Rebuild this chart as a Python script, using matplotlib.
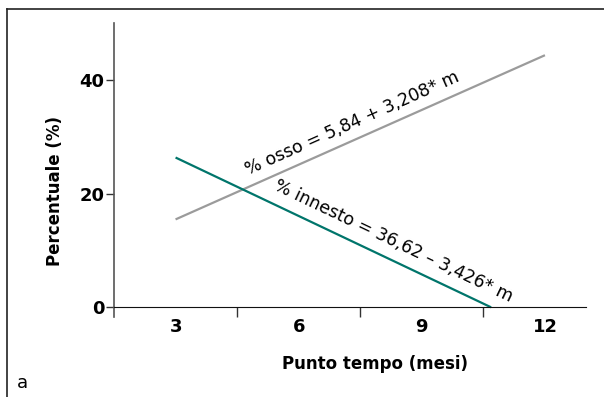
import numpy as np
import matplotlib
matplotlib.use("Agg")
import matplotlib.pyplot as plt
from matplotlib.lines import Line2D

plt.rcParams['font.family'] = ['DejaVu Sans']

# regression lines
months = [3, 12]
osso_coef = (5.84, 3.208)        # % osso = a + b*m
innesto_coef = (36.62, -3.426)   # % innesto = a + b*m
xticklabels = ['3', '6', '9', '12']
xtick_pos = [3, 6, 9, 12]
xminor_pos = [4.5, 7.5, 10.5]
yticks = [0, 20, 40]

osso_txt = '% osso = 5,84 + 3,208* m'
innesto_txt = '% innesto = 36,62 \u2013 3,426* m'

fig = plt.figure(figsize=(6.04, 3.97), dpi=100)
ax = fig.add_axes([114/604, 1-317/397, 472/604, 294/397])

# gray line over the full range, teal line down to zero
m_osso = np.array(months, dtype=float)
y_osso = osso_coef[0] + osso_coef[1]*m_osso
m_inn = np.array([months[0], -innesto_coef[0]/innesto_coef[1]])
y_inn = innesto_coef[0] + innesto_coef[1]*m_inn

ax.plot(m_osso, y_osso, color='#9b9b9b', lw=1.6, solid_capstyle='butt')
ax.plot(m_inn, y_inn, color='#00756b', lw=1.6, solid_capstyle='butt')

ax.set_xlim(1.5, 13)
ax.set_ylim(-1.7, 50)

for s in ['top', 'right']:
    ax.spines[s].set_visible(False)
ax.spines['bottom'].set_position(('data', 0))
ax.spines['bottom'].set_color('#111111')
ax.spines['left'].set_color('#555555')
ax.spines['left'].set_linewidth(1.2)

ax.set_xticks(xtick_pos)
ax.set_xticklabels(xticklabels, fontsize=13, fontweight='bold')
ax.set_xticks(xminor_pos, minor=True)
ax.tick_params(axis='x', which='major', length=0, pad=8)
ax.tick_params(axis='x', which='minor', length=7, width=1, color='#333333', direction='out')
ax.set_yticks(yticks)
ax.set_yticklabels([str(v) for v in yticks], fontsize=13, fontweight='bold')
ax.tick_params(axis='y', length=6, width=1, color='#333333', pad=1)

ax.set_xlabel('Punto tempo (mesi)', fontsize=12, fontweight='bold')
ax.xaxis.set_label_coords(0.553, -0.13)
ax.set_ylabel('Percentuale (%)', fontsize=12, fontweight='bold')
ax.yaxis.set_label_coords(-0.105, 0.43)

# equations along the lines
xo = 7.31
ax.text(xo, osso_coef[0] + osso_coef[1]*xo + 3.0, osso_txt, rotation=24,
        ha='center', va='center', fontsize=12.5, rotation_mode='anchor')
xi = 8.3
ax.text(xi, innesto_coef[0] + innesto_coef[1]*xi + 3.5, innesto_txt, rotation=-25.5,
        ha='center', va='center', fontsize=12.5, rotation_mode='anchor')

# panel frame (top and left edges) and letter
fig.add_artist(Line2D([7/604, 1], [1-9/397, 1-9/397], color='#222222', lw=1.2))
fig.add_artist(Line2D([7/604, 7/604], [0, 1-9/397], color='#222222', lw=1.2))
fig.text(17/604, 1-383/397, 'a', fontsize=13, va='center', ha='left')

fig.savefig('out.png', dpi=100)
